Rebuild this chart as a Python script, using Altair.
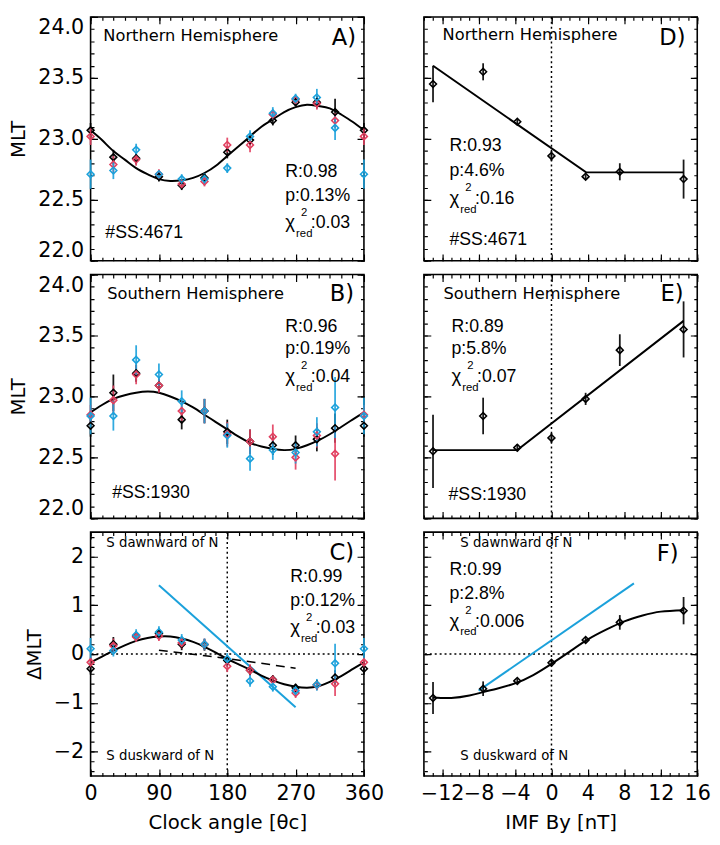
import altair as alt
import pandas as pd

# ----------------------------- data -----------------------------
series = ["black", "red", "blue"]
series_colors = ["#000000", "#e23f5f", "#1ba1db"]

angle = [0, 30, 60, 90, 120, 150, 180, 210, 240, 270, 298, 322, 360]

# Panel A: Northern Hemisphere MLT vs clock angle
a_black = [23.07, 22.85, 22.84, 22.69, 22.62, 22.68, 22.89, 22.99, 23.15, 23.30, 23.30, 23.22, 23.07]
a_red = [23.02, 22.79, 22.83, 22.71, 22.63, 22.65, 22.95, 22.95, 23.20, 23.32, 23.29, 23.15, 23.02]
a_blue = [22.71, 22.74, 22.91, 22.71, 22.67, 22.67, 22.76, 23.02, 23.21, 23.33, 23.34, 23.09, 22.71]
a_black_err = [0.06, 0.06, 0.05, 0.04, 0.04, 0.04, 0.05, 0.04, 0.04, 0.03, 0.05, 0.11, 0.06]
a_red_err = [0.07, 0.07, 0.05, 0.04, 0.03, 0.04, 0.06, 0.06, 0.04, 0.03, 0.05, 0.06, 0.07]
a_blue_err = [0.12, 0.07, 0.05, 0.03, 0.04, 0.05, 0.04, 0.05, 0.05, 0.04, 0.07, 0.10, 0.12]

# Panel B: Southern Hemisphere
b_black = [22.76, 23.03, 23.19, 23.09, 22.81, 22.88, 22.71, 22.63, 22.60, 22.60, 22.65, 22.74, 22.76]
b_red = [22.85, 22.97, 23.18, 23.09, 22.88, 22.88, 22.69, 22.63, 22.67, 22.50, 22.68, 22.53, 22.85]
b_blue = [22.84, 22.84, 23.30, 23.18, 22.96, 22.88, 22.68, 22.49, 22.56, 22.54, 22.71, 22.91, 22.84]
b_black_err = [0.09, 0.15, 0.07, 0.05, 0.08, 0.10, 0.10, 0.10, 0.08, 0.08, 0.10, 0.12, 0.09]
b_red_err = [0.08, 0.12, 0.08, 0.06, 0.08, 0.10, 0.10, 0.10, 0.10, 0.10, 0.10, 0.22, 0.08]
b_blue_err = [0.15, 0.12, 0.12, 0.09, 0.09, 0.10, 0.10, 0.10, 0.08, 0.09, 0.12, 0.25, 0.15]

# Panel C: Delta MLT
c_black = [-0.30, 0.20, 0.37, 0.42, 0.20, 0.19, -0.13, -0.33, -0.52, -0.69, -0.63, -0.48, -0.30]
c_red = [-0.17, 0.17, 0.35, 0.37, 0.23, 0.20, -0.25, -0.33, -0.53, -0.80, -0.64, -0.61, -0.17]
c_blue = [0.11, 0.07, 0.39, 0.45, 0.29, 0.20, -0.10, -0.55, -0.67, -0.75, -0.63, -0.19, 0.11]
c_black_err = [0.12, 0.15, 0.10, 0.10, 0.12, 0.12, 0.10, 0.10, 0.08, 0.08, 0.10, 0.15, 0.12]
c_red_err = [0.10, 0.15, 0.10, 0.10, 0.12, 0.12, 0.12, 0.12, 0.10, 0.10, 0.10, 0.25, 0.10]
c_blue_err = [0.22, 0.12, 0.12, 0.12, 0.12, 0.12, 0.12, 0.12, 0.10, 0.10, 0.12, 0.40, 0.22]

# fitted curves
fit_angle = [0, 15, 30, 45, 60, 75, 90, 105, 120, 135, 150, 165, 180,
             195, 210, 225, 240, 255, 270, 285, 300, 315, 330, 345, 360]
fit_a = [23.07, 22.99, 22.90, 22.83, 22.76, 22.71, 22.67, 22.655, 22.66, 22.68, 22.72, 22.78, 22.86,
         22.94, 23.02, 23.10, 23.16, 23.22, 23.26, 23.28, 23.27, 23.25, 23.20, 23.14, 23.07]
fit_b = [22.87, 22.93, 22.98, 23.01, 23.03, 23.04, 23.03, 23.00, 22.96, 22.91, 22.85, 22.79, 22.73,
         22.67, 22.62, 22.59, 22.57, 22.56, 22.57, 22.60, 22.64, 22.69, 22.75, 22.81, 22.87]
fit_c = [-0.17, -0.05, 0.07, 0.18, 0.27, 0.33, 0.36, 0.36, 0.32, 0.25, 0.15, 0.03, -0.10,
         -0.21, -0.32, -0.44, -0.54, -0.62, -0.67, -0.69, -0.66, -0.57, -0.45, -0.31, -0.17]
c_blue_line_x = [90, 270]
c_blue_line_y = [1.41, -1.09]
c_dash_x = [90, 180, 270]
c_dash_y = [0.08, -0.09, -0.29]

# Right column: vs IMF By
by = [-13, -7.5, -3.75, 0, 3.75, 7.5, 14.5]
d_val = [23.45, 23.55, 23.14, 22.86, 22.69, 22.73, 22.67]
d_err = [0.15, 0.07, 0.02, 0.04, 0.02, 0.07, 0.16]
e_val = [22.55, 22.84, 22.58, 22.66, 22.98, 23.38, 23.55]
e_err = [0.30, 0.15, 0.03, 0.04, 0.05, 0.13, 0.23]
f_val = [-0.90, -0.71, -0.55, -0.18, 0.29, 0.65, 0.89]
f_err = [0.33, 0.15, 0.05, 0.06, 0.06, 0.15, 0.28]

d_fit_x = [-13, 3.8, 14.5]
d_fit_y = [23.60, 22.725, 22.725]
e_fit_x = [-13, -3.75, 14.5]
e_fit_y = [22.56, 22.56, 23.62]
f_fit_x = [-13, -11, -9, -7.5, -6, -4, -2, 0, 2, 4, 6, 8, 10, 12, 14.5]
f_fit_y = [-0.89, -0.90, -0.85, -0.78, -0.71, -0.60, -0.43, -0.20, 0.05, 0.30, 0.50, 0.67, 0.79, 0.87, 0.90]
f_blue_x = [-8.0, 9.05]
f_blue_y = [-0.75, 1.45]

# tick values
angle_major = [0, 90, 180, 270, 360]
angle_minor = list(range(0, 361, 15))
by_major = [-12, -8, -4, 0, 4, 8, 12, 16]
by_minor = list(range(-14, 17))
mlt_major = [22.0, 22.5, 23.0, 23.5, 24.0]
mlt_minor = [round(22 + 0.1 * i, 1) for i in range(21)]
dmlt_major = [-2, -1, 0, 1, 2]
dmlt_minor = [round(-2.4 + 0.2 * i, 1) for i in range(25)]

# statistics text (panels A, B, C, D, E, F)
stat_R = ["0.98", "0.96", "0.99", "0.93", "0.89", "0.99"]
stat_p = ["0.13%", "0.19%", "0.12%", "4.6%", "5.8%", "2.8%"]
stat_chi = ["0.03", "0.04", "0.03", "0.16", "0.07", "0.006"]
n_ss = ["4671", "1930"]

# ----------------------------- styling -----------------------------
W, H = 278, 248
FONT = "DejaVu Sans"
SANS = "Liberation Sans"

x_angle = alt.Scale(domain=[0, 360], nice=False, zero=False)
x_by = alt.Scale(domain=[-14, 16], nice=False, zero=False)
y_mlt = alt.Scale(domain=[22, 24], nice=False, zero=False)
y_dmlt = alt.Scale(domain=[-2.5, 2.5], nice=False, zero=False)
color_enc = alt.Color("s:N", scale=alt.Scale(domain=series, range=series_colors), legend=None)


def long_df(xs, vals, errs):
    rows = []
    for name, v_list, e_list in zip(series, vals, errs):
        for x, v, e in zip(xs, v_list, e_list):
            rows.append({"x": x, "y": v, "lo": v - e, "hi": v + e, "s": name})
    return pd.DataFrame(rows)


def axis(orient, values, major, labeled, fmt, title, flush, length):
    # inward ticks on both opposite edges drawn as dashed grid lines
    size = 7 if major else 3.5
    kw = dict(orient=orient, values=values, ticks=False, domain=False,
              grid=True, gridColor="black", gridWidth=1.2, gridOpacity=1,
              gridDash=[size, length - 2 * size, size, length])
    if labeled:
        kw.update(labels=True, labelFont=FONT, labelFontSize=21, labelColor="black",
                  labelPadding=7, labelFlush=flush, labelOverlap=False, format=fmt,
                  title=title, titleFont=FONT, titleFontSize=20, titleFontWeight="normal",
                  titleColor="black", titlePadding=9)
    else:
        kw.update(labels=False, title=None)
    return alt.Axis(**kw)


def frames(df, xsc, ysc, xmaj, xmin, ymaj, ymin, xlab, ylab, xfmt, yfmt, xtitle, ytitle):
    specs = [((xmaj, True, xlab), (ymaj, True, ylab)),
             ((xmin, False, False), (ymin, False, False))]
    out = []
    for (xv, xm, xl), (yv, ym, yl) in specs:
        out.append(
            alt.Chart(df).mark_point(opacity=0, size=1).encode(
                x=alt.X("x:Q", scale=xsc, axis=axis("bottom", xv, xm, xl, xfmt, xtitle, False, H)),
                y=alt.Y("y:Q", scale=ysc, axis=axis("left", yv, ym, yl, yfmt, ytitle, True, W)),
            )
        )
    return out


def txt(s, x, y, size=18, font=SANS, align="left"):
    return alt.Chart(pd.DataFrame({"t": [s]})).mark_text(
        font=font, fontSize=size, align=align, baseline="middle", color="black"
    ).encode(x=alt.value(x), y=alt.value(y), text="t:N")


def stats(x0, y0, step, r, p, chi):
    yc = y0 + step + 27
    return [
        txt("R:" + r, x0, y0 - 1),
        txt("p:" + p, x0, y0 + step - 1),
        txt("χ", x0, yc - 1, 19),
        txt("2", x0 + 16, yc - 11, 11.5),
        txt("red", x0 + 11, yc + 11, 11.5),
        txt(":" + chi, x0 + 26, yc),
    ]


def points_layers(df, xsc, ysc):
    X = alt.X("x:Q", scale=xsc, axis=None)
    bars = alt.Chart(df).mark_rule(strokeWidth=1.8, opacity=0.9).encode(
        x=X, y=alt.Y("lo:Q", scale=ysc, axis=None), y2="hi:Q", color=color_enc)
    pts = alt.Chart(df).mark_point(shape="diamond", filled=False, size=48, strokeWidth=1.6, opacity=1).encode(
        x=X, y=alt.Y("y:Q", scale=ysc, axis=None), color=color_enc)
    return [bars, pts]


def line(xs, ys, xsc, ysc, color="black", width=2, dash=None, interp="linear"):
    kw = dict(color=color, strokeWidth=width, interpolate=interp)
    if dash:
        kw["strokeDash"] = dash
    return alt.Chart(pd.DataFrame({"x": xs, "y": ys})).mark_line(**kw).encode(
        x=alt.X("x:Q", scale=xsc, axis=None), y=alt.Y("y:Q", scale=ysc, axis=None))


def vrule(v, xsc):
    return alt.Chart(pd.DataFrame({"d": [0]})).mark_rule(color="black", strokeWidth=1.5, strokeDash=[2, 3]).encode(
        x=alt.XDatum(v, scale=xsc, axis=None))


def hrule(v, ysc):
    return alt.Chart(pd.DataFrame({"d": [0]})).mark_rule(color="black", strokeWidth=1.5, strokeDash=[2, 3]).encode(
        y=alt.YDatum(v, scale=ysc, axis=None))


def panel(layers):
    return alt.layer(*layers).resolve_axis(x="independent", y="independent").properties(width=W, height=H)


# ----------------------------- panels -----------------------------
fa = pd.DataFrame({"x": fit_angle, "y": fit_a})
fb = pd.DataFrame({"x": fit_angle, "y": fit_b})
fc = pd.DataFrame({"x": fit_angle, "y": fit_c})

dfA = long_df(angle, [a_black, a_red, a_blue], [a_black_err, a_red_err, a_blue_err])
dfB = long_df(angle, [b_black, b_red, b_blue], [b_black_err, b_red_err, b_blue_err])
dfC = long_df(angle, [c_black, c_red, c_blue], [c_black_err, c_red_err, c_blue_err])
dfD = long_df(by, [d_val], [d_err])
dfE = long_df(by, [e_val], [e_err])
dfF = long_df(by, [f_val], [f_err])

pA = panel(
    frames(fa, x_angle, y_mlt, angle_major, angle_minor, mlt_major, mlt_minor, False, True, "d", ".1f", None, "MLT")
    + [line(fit_angle, fit_a, x_angle, y_mlt, interp="natural")]
    + points_layers(dfA, x_angle, y_mlt)
    + [txt("Northern Hemisphere", 13, 19, 16.5, FONT), txt("A)", 270, 22, 23, FONT, "right"),
       txt("#SS:" + n_ss[0], 15, 220)]
    + stats(198, 159, 24, stat_R[0], stat_p[0], stat_chi[0])
)

pB = panel(
    frames(fb, x_angle, y_mlt, angle_major, angle_minor, mlt_major, mlt_minor, False, True, "d", ".1f", None, "MLT")
    + [line(fit_angle, fit_b, x_angle, y_mlt, interp="natural")]
    + points_layers(dfB, x_angle, y_mlt)
    + [txt("Southern Hemisphere", 17, 20, 16.5, FONT), txt("B)", 268, 20, 23, FONT, "right"),
       txt("#SS:" + n_ss[1], 22, 222)]
    + stats(198, 54, 23, stat_R[1], stat_p[1], stat_chi[1])
)

pC = panel(
    frames(fc, x_angle, y_dmlt, angle_major, angle_minor, dmlt_major, dmlt_minor, True, True, "d", "d",
           "Clock angle [θc]", "ΔMLT")
    + [hrule(0, y_dmlt), vrule(180, x_angle),
       line(c_dash_x, c_dash_y, x_angle, y_dmlt, width=1.6, dash=[9, 6]),
       line(c_blue_line_x, c_blue_line_y, x_angle, y_dmlt, color="#1ba1db", width=2),
       line(fit_angle, fit_c, x_angle, y_dmlt, interp="natural")]
    + points_layers(dfC, x_angle, y_dmlt)
    + [txt("S dawnward of N", 16, 11, 13.5, FONT), txt("S duskward of N", 16, 228, 13.5, FONT),
       txt("C)", 268, 21, 23, FONT, "right")]
    + stats(203, 47, 24, stat_R[2], stat_p[2], stat_chi[2])
)

pD = panel(
    frames(pd.DataFrame({"x": d_fit_x, "y": d_fit_y}), x_by, y_mlt, by_major, by_minor, mlt_major, mlt_minor,
           False, False, "d", ".1f", None, None)
    + [vrule(0, x_by), line(d_fit_x, d_fit_y, x_by, y_mlt)]
    + points_layers(dfD, x_by, y_mlt)
    + [txt("Northern Hemisphere", 19, 18, 16.5, FONT), txt("D)", 266, 22, 23, FONT, "right"),
       txt("#SS:" + n_ss[0], 26, 227)]
    + stats(26, 132, 26, stat_R[3], stat_p[3], stat_chi[3])
)

pE = panel(
    frames(pd.DataFrame({"x": e_fit_x, "y": e_fit_y}), x_by, y_mlt, by_major, by_minor, mlt_major, mlt_minor,
           False, False, "d", ".1f", None, None)
    + [vrule(0, x_by), line(e_fit_x, e_fit_y, x_by, y_mlt)]
    + points_layers(dfE, x_by, y_mlt)
    + [txt("Southern Hemisphere", 20, 20, 16.5, FONT), txt("E)", 264, 20, 23, FONT, "right"),
       txt("#SS:" + n_ss[1], 25, 224)]
    + stats(28, 54, 23, stat_R[4], stat_p[4], stat_chi[4])
)

pF = panel(
    frames(pd.DataFrame({"x": f_fit_x, "y": f_fit_y}), x_by, y_dmlt, by_major, by_minor, dmlt_major, dmlt_minor,
           True, False, "d", "d", "IMF By [nT]", None)
    + [hrule(0, y_dmlt), vrule(0, x_by),
       line(f_blue_x, f_blue_y, x_by, y_dmlt, color="#1ba1db", width=2),
       line(f_fit_x, f_fit_y, x_by, y_dmlt, interp="natural")]
    + points_layers(dfF, x_by, y_dmlt)
    + [txt("S dawnward of N", 37, 11, 13.5, FONT), txt("S duskward of N", 37, 228, 13.5, FONT),
       txt("F)", 259, 22, 23, FONT, "right")]
    + stats(26, 40, 24, stat_R[5], stat_p[5], stat_chi[5])
)

chart = alt.concat(
    pA, pD, pB, pE, pC, pF,
    columns=2, spacing={"row": 14, "column": 61}, align="each", bounds="flush",
).configure_view(stroke="black", strokeWidth=1.6).properties(
    padding={"left": 0, "right": 0, "top": 0, "bottom": 0}, background="white"
)

chart.save("out.html", embed_options={"renderer": "svg", "actions": False})
